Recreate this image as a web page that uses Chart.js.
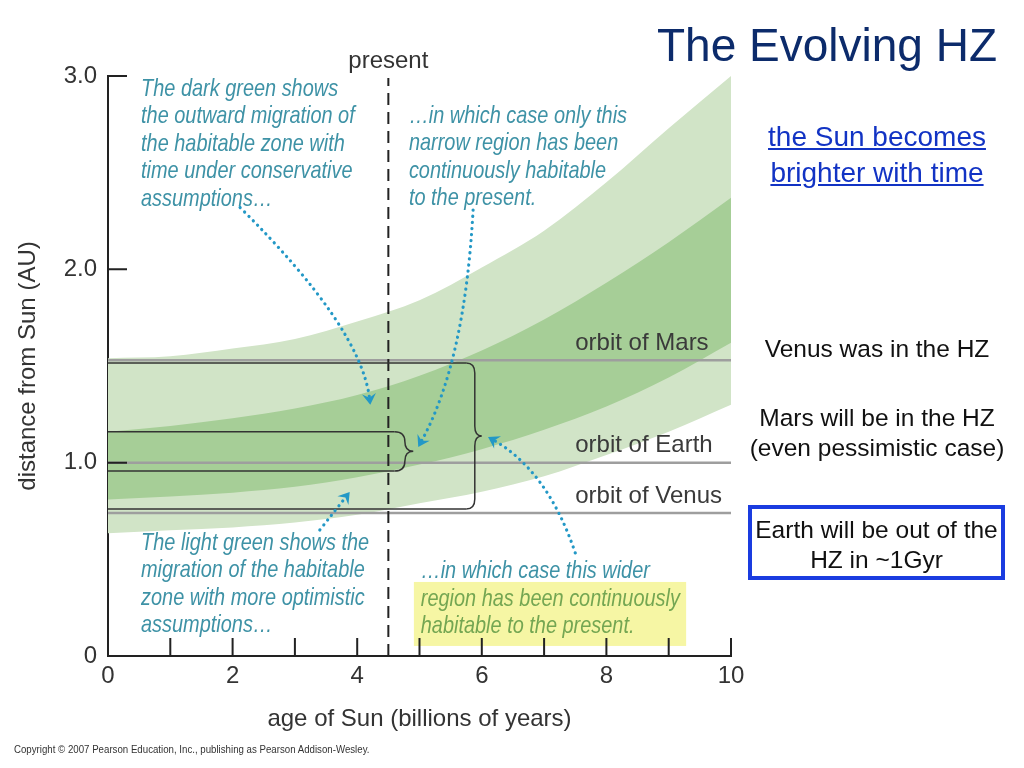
<!DOCTYPE html>
<html>
<head>
<meta charset="utf-8">
<script src="https://cdn.jsdelivr.net/npm/chart.js@4.4.1/dist/chart.umd.min.js"></script>
<style>
  body { margin: 0; background: #fff; }
  #wrap { position: relative; width: 1024px; height: 768px; overflow: hidden; font-family: "Liberation Sans", Arial, sans-serif; }
  #hz { position: absolute; left: 0; top: 0; }
  .txt { position: absolute; text-align: center; white-space: nowrap; }
</style>
</head>
<body>
<div id="wrap">
  <canvas id="hz" width="1024" height="768"></canvas>
  <div class="txt" style="right:27px; top:22px; font-size:46px; line-height:46px; color:#0c2b6b;">The Evolving HZ</div>
  <div class="txt" style="left:740px; width:274px; top:119px; font-size:28px; line-height:36px; color:#1233c4; text-decoration:underline;">the Sun becomes<br>brighter with time</div>
  <div class="txt" style="left:740px; width:274px; top:334px; font-size:24.5px; line-height:30px; color:#111;">Venus was in the HZ</div>
  <div class="txt" style="left:740px; width:274px; top:403px; font-size:24.5px; line-height:30px; color:#111;">Mars will be in the HZ<br>(even pessimistic case)</div>
  <div class="txt" style="left:748px; top:505px; width:249px; height:67px; border:4px solid #1a3ce0; font-size:24.5px; line-height:30px; color:#111; padding-top:0;"><div style="margin-top:6px;">Earth will be out of the<br>HZ in ~1Gyr</div></div>
  <div class="txt" style="left:14px; top:742px; font-size:11px; line-height:14px; color:#333; text-align:left; transform:scaleX(0.88); transform-origin:left;">Copyright © 2007 Pearson Education, Inc., publishing as Pearson Addison-Wesley.</div>
</div>
<script>
// age of the Sun (billions of years)
const ages = [0, 1, 2, 3, 4, 5, 6, 7, 8, 9, 10];
// habitable zone edges (AU)
const lightTop    = [1.54, 1.55, 1.59, 1.64, 1.73, 1.84, 2.01, 2.20, 2.45, 2.73, 3.00];
const darkTop     = [1.16, 1.19, 1.23, 1.28, 1.35, 1.45, 1.58, 1.74, 1.93, 2.14, 2.37];
const darkBottom  = [0.81, 0.825, 0.845, 0.875, 0.925, 0.99, 1.07, 1.17, 1.29, 1.44, 1.62];
const lightBottom = [0.635, 0.65, 0.665, 0.69, 0.73, 0.79, 0.85, 0.93, 1.04, 1.16, 1.30];

const planets = ['Mars', 'Earth', 'Venus'];
const orbitAU = [1.53, 1.0, 0.74];

const presentAge = 4.5;
const wideZone = [0.76, 1.515];     // continuously habitable, optimistic
const narrowZone = [0.957, 1.16];   // continuously habitable, conservative
const wideBrace = [5.75, 6.0];      // where the lines stop, brace tip
const narrowBrace = [4.6, 4.9];

const yTickLabels = ['0', '1.0', '2.0', '3.0'];

const FONT = '"Liberation Sans", Arial, sans-serif';
const LIGHT = 'rgb(209,228,199)';
const DARK = 'rgb(166,206,151)';
const TEAL = 'rgb(62,146,166)';
const DOTS = 'rgb(35,152,198)';

function series(ys) {
    return ages.map((a, i) => ({ x: a, y: ys[i] }));
}
function hline(y, x0, x1) {
    return [{ x: x0, y: y }, { x: x1, y: y }];
}

const bandStyle = { pointRadius: 0, borderWidth: 0, cubicInterpolationMode: 'monotone' };

const datasets = [
    { ...bandStyle, label: 'dark top', data: series(darkTop), fill: 1, backgroundColor: DARK, order: 3 },
    { ...bandStyle, label: 'dark bottom', data: series(darkBottom), fill: false, order: 3 },
    { ...bandStyle, label: 'light top', data: series(lightTop), fill: 3, backgroundColor: LIGHT, order: 4 },
    { ...bandStyle, label: 'light bottom', data: series(lightBottom), fill: false, order: 4 },
];
orbitAU.forEach((au, i) => {
    datasets.push({ label: 'orbit of ' + planets[i], data: hline(au, 0, 10), borderColor: 'rgb(158,158,158)', borderWidth: 2.5, pointRadius: 0, fill: false, order: 2 });
});
datasets.push({ label: 'present', data: [{ x: presentAge, y: 0 }, { x: presentAge, y: 2.99 }], borderColor: '#222', borderWidth: 2, borderDash: [12, 7], pointRadius: 0, fill: false, order: 1 });
wideZone.forEach(au => {
    datasets.push({ label: 'wide', data: hline(au, 0, wideBrace[0]), borderColor: '#333', borderWidth: 1.5, pointRadius: 0, fill: false, order: 0 });
});
narrowZone.forEach(au => {
    datasets.push({ label: 'narrow', data: hline(au, 0, narrowBrace[0]), borderColor: '#333', borderWidth: 1.5, pointRadius: 0, fill: false, order: 0 });
});

// callout texts, anchored in data units
const notes = [
    { age: 0.53, au: 2.933, color: TEAL, lines: ['The dark green shows', 'the outward migration of', 'the habitable zone with', 'time under conservative', 'assumptions\u2026'] },
    { age: 4.83, au: 2.793, color: TEAL, lines: ['\u2026in which case only this', 'narrow region has been', 'continuously habitable', 'to the present.'] },
    { age: 0.53, au: 0.585, color: TEAL, lines: ['The light green shows the', 'migration of the habitable', 'zone with more optimistic', 'assumptions\u2026'] },
    { age: 5.02, au: 0.44, color: TEAL, lines: ['\u2026in which case this wider'] },
    { age: 5.02, au: 0.295, color: 'rgb(116,166,82)', lines: ['region has been continuously', 'habitable to the present.'] },
];
const highlight = { ages: [4.91, 9.28], au: [0.383, 0.052] };

const arrows = [
    { from: [2.12, 2.32], via: [4.06, 1.70], to: [4.21, 1.30] },
    { from: [5.86, 2.307], via: [5.73, 1.52], to: [4.98, 1.081] },
    { from: [3.40, 0.652], via: [3.64, 0.75], to: [3.88, 0.848] },
    { from: [7.50, 0.533], via: [7.06, 0.957], to: [6.10, 1.133] },
];

const annotations = {
    id: 'annotations',
    afterDatasetsDraw(chart) {
        const { ctx, scales: { x, y } } = chart;
        const px = v => x.getPixelForValue(v);
        const py = v => y.getPixelForValue(v);
        ctx.save();

        // yellow highlight behind the last callout
        ctx.fillStyle = 'rgb(246,246,164)';
        ctx.fillRect(px(highlight.ages[0]), py(highlight.au[0]), px(highlight.ages[1]) - px(highlight.ages[0]), py(highlight.au[1]) - py(highlight.au[0]));

        // orbit labels
        ctx.fillStyle = '#3a3a3a';
        ctx.font = '24px ' + FONT;
        ctx.textBaseline = 'middle';
        ctx.textAlign = 'left';
        orbitAU.forEach((au, i) => {
            ctx.fillText('orbit of ' + planets[i], px(7.5), py(au) - 17);
        });

        // braces
        ctx.strokeStyle = '#333';
        ctx.lineWidth = 1.5;
        [[narrowBrace, narrowZone], [wideBrace, wideZone]].forEach(([b, z]) => {
            const x0 = px(b[0]), xt = px(b[1]);
            const xv = x0 + (xt - x0) * 0.55;
            const yt = py(z[1]), yb = py(z[0]), ym = (yt + yb) / 2;
            const r = Math.min(10, (yb - yt) / 4);
            ctx.beginPath();
            ctx.moveTo(x0, yt);
            ctx.quadraticCurveTo(xv, yt, xv, yt + r);
            ctx.lineTo(xv, ym - r);
            ctx.quadraticCurveTo(xv, ym, xt, ym);
            ctx.quadraticCurveTo(xv, ym, xv, ym + r);
            ctx.lineTo(xv, yb - r);
            ctx.quadraticCurveTo(xv, yb, x0, yb);
            ctx.stroke();
        });

        // callout texts (condensed italic)
        ctx.font = 'italic 24px ' + FONT;
        notes.forEach(n => {
            ctx.fillStyle = n.color;
            n.lines.forEach((line, i) => {
                ctx.save();
                ctx.translate(px(n.age), py(n.au) + i * 27.5);
                ctx.scale(0.83, 1);
                ctx.fillText(line, 0, 0);
                ctx.restore();
            });
        });

        // dotted arrows
        arrows.forEach(a => {
            const p0 = [px(a.from[0]), py(a.from[1])];
            const c = [px(a.via[0]), py(a.via[1])];
            const p1 = [px(a.to[0]), py(a.to[1])];
            const ang = Math.atan2(p1[1] - c[1], p1[0] - c[0]);
            const end = [p1[0] - Math.cos(ang) * 6, p1[1] - Math.sin(ang) * 6];
            ctx.strokeStyle = DOTS;
            ctx.lineWidth = 3.2;
            ctx.lineCap = 'round';
            ctx.setLineDash([0.1, 6]);
            ctx.beginPath();
            ctx.moveTo(p0[0], p0[1]);
            ctx.quadraticCurveTo(c[0], c[1], end[0], end[1]);
            ctx.stroke();
            ctx.setLineDash([]);
            ctx.fillStyle = DOTS;
            ctx.save();
            ctx.translate(p1[0], p1[1]);
            ctx.rotate(ang);
            ctx.beginPath();
            ctx.moveTo(0, 0);
            ctx.lineTo(-11, -7);
            ctx.lineTo(-7, 0);
            ctx.lineTo(-11, 7);
            ctx.closePath();
            ctx.fill();
            ctx.restore();
        });
        ctx.restore();
    },
    afterDraw(chart) {
        // inward tick marks
        const { ctx, chartArea: a, scales: { x, y } } = chart;
        ctx.save();
        ctx.strokeStyle = '#222';
        ctx.lineWidth = 2;
        ctx.beginPath();
        x.ticks.forEach(t => {
            if (t.value === 0) return;
            const p = x.getPixelForValue(t.value);
            ctx.moveTo(p, a.bottom);
            ctx.lineTo(p, a.bottom - 18);
        });
        y.ticks.forEach(t => {
            if (t.value === 0) return;
            const p = y.getPixelForValue(t.value);
            ctx.moveTo(a.left, p);
            ctx.lineTo(a.left + 19, p);
        });
        ctx.stroke();

        // "present" label
        ctx.fillStyle = '#333';
        ctx.font = '24px ' + FONT;
        ctx.textAlign = 'center';
        ctx.textBaseline = 'middle';
        ctx.fillText('present', x.getPixelForValue(presentAge), a.top - 15);
        ctx.restore();
    }
};

const ctx = document.getElementById('hz').getContext('2d');
new Chart(ctx, {
    type: 'line',
    data: { datasets: datasets },
    options: {
        responsive: false,
        animation: false,
        layout: { padding: { left: 0, right: 293, top: 76, bottom: 0 } },
        plugins: { legend: { display: false }, tooltip: { enabled: false } },
        scales: {
            x: {
                type: 'linear',
                min: 0,
                max: 10,
                z: 1,
                border: { color: '#222', width: 2 },
                grid: { drawOnChartArea: false, drawTicks: false },
                ticks: {
                    stepSize: 1,
                    autoSkip: false,
                    maxRotation: 0,
                    padding: 6,
                    color: '#333',
                    font: { size: 24, family: FONT },
                    callback: v => (v % 2 === 0 ? String(v) : '')
                },
                title: { display: true, text: 'age of Sun (billions of years)', color: '#333', font: { size: 24, family: FONT }, padding: { top: 0, bottom: 34 } },
                afterFit: s => { s.height = 112; }
            },
            y: {
                min: 0,
                max: 3,
                z: 1,
                border: { color: '#222', width: 2 },
                grid: { drawOnChartArea: false, drawTicks: false },
                ticks: {
                    stepSize: 1,
                    padding: 11,
                    color: '#333',
                    font: { size: 24, family: FONT },
                    callback: v => yTickLabels[v]
                },
                title: { display: true, text: 'distance from Sun (AU)', color: '#333', font: { size: 24, family: FONT }, padding: { top: 14, bottom: 0 } },
                afterFit: s => { s.width = 108; }
            }
        }
    },
    plugins: [annotations]
});
</script>
</body>
</html>
